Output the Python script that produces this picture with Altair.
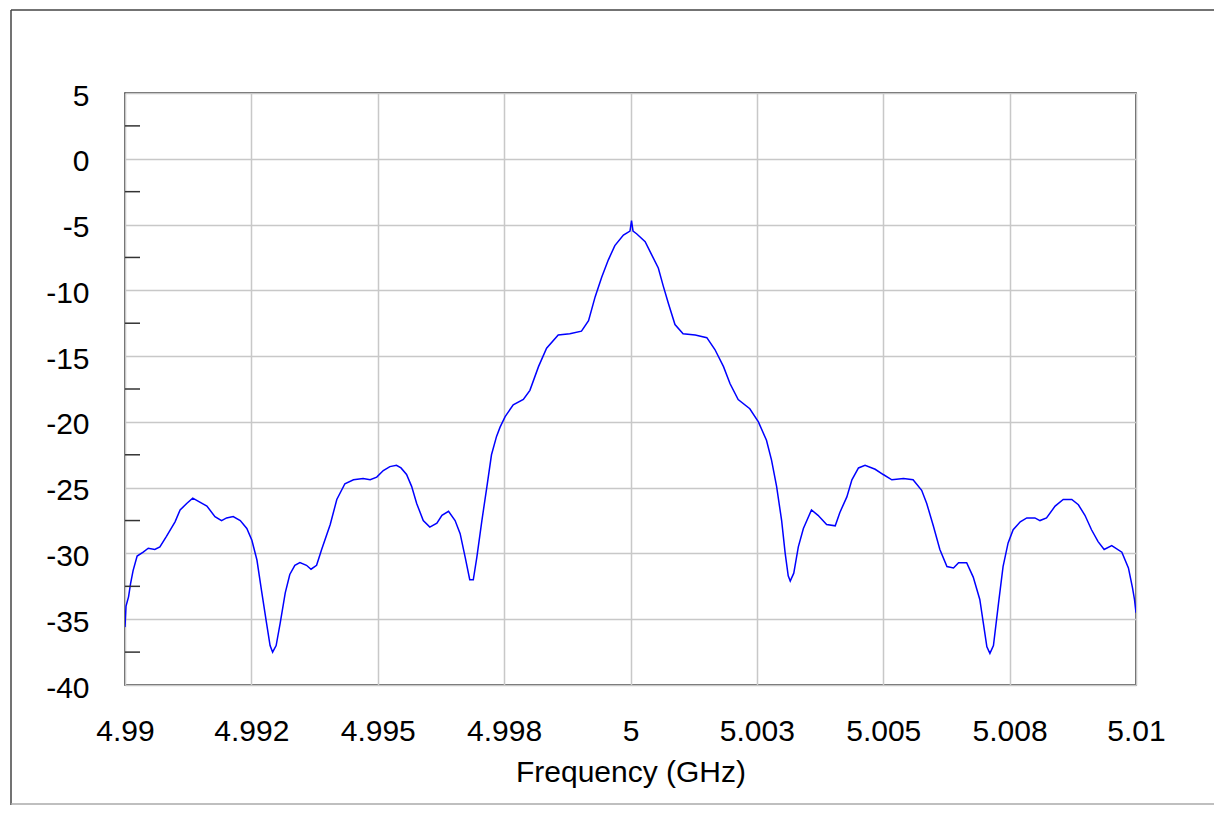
import altair as alt
import pandas as pd

# Frequency (GHz) and level (dB)
freq_ghz = [
    4.99000, 4.99002, 4.99007, 4.99011, 4.99016, 4.99024, 4.99036, 4.99046, 4.99059, 4.99069,
    4.99082, 4.99099, 4.99109, 4.99122, 4.99134, 4.99148, 4.99162, 4.99178, 4.99191, 4.99201,
    4.99214, 4.99228, 4.99241, 4.99251, 4.99261, 4.99270, 4.99280, 4.99287, 4.99292, 4.99299,
    4.99307, 4.99317, 4.99326, 4.99336, 4.99346, 4.99359, 4.99368, 4.99379, 4.99389, 4.99406,
    4.99419, 4.99435, 4.99452, 4.99471, 4.99485, 4.99498, 4.99511, 4.99524, 4.99537, 4.99546,
    4.99557, 4.99567, 4.99577, 4.99590, 4.99603, 4.99617, 4.99627, 4.99640, 4.99653, 4.99663,
    4.99673, 4.99682, 4.99689, 4.99696, 4.99706, 4.99716, 4.99725, 4.99735, 4.99742, 4.99752,
    4.99768, 4.99788, 4.99801, 4.99818, 4.99834, 4.99857, 4.99880, 4.99903, 4.99917, 4.99930,
    4.99943, 4.99956, 4.99969, 4.99986, 4.99999, 5.00002, 5.00005, 5.00012, 5.00029, 5.00042,
    5.00055, 5.00065, 5.00075, 5.00088, 5.00104, 5.00128, 5.00151, 5.00167, 5.00184, 5.00197,
    5.00213, 5.00236, 5.00253, 5.00269, 5.00279, 5.00289, 5.00299, 5.00306, 5.00312, 5.00316,
    5.00323, 5.00332, 5.00342, 5.00358, 5.00371, 5.00388, 5.00405, 5.00414, 5.00428, 5.00438,
    5.00451, 5.00464, 5.00484, 5.00500, 5.00517, 5.00540, 5.00559, 5.00576, 5.00586, 5.00599,
    5.00612, 5.00626, 5.00639, 5.00649, 5.00665, 5.00678, 5.00691, 5.00698, 5.00705, 5.00711,
    5.00718, 5.00728, 5.00737, 5.00747, 5.00757, 5.00771, 5.00784, 5.00800, 5.00810, 5.00823,
    5.00840, 5.00856, 5.00873, 5.00886, 5.00899, 5.00912, 5.00925, 5.00937, 5.00952, 5.00972,
    5.00985, 5.00993, 5.00997, 5.01000,
]
level_db = [
    -35.6, -34.0, -33.3, -32.3, -31.3, -30.2, -29.9, -29.6, -29.7, -29.5,
    -28.7, -27.6, -26.7, -26.2, -25.8, -26.1, -26.4, -27.2, -27.5, -27.3,
    -27.2, -27.5, -28.1, -29.0, -30.5, -32.8, -35.3, -37.0, -37.5, -37.0,
    -35.3, -33.0, -31.6, -30.9, -30.7, -30.9, -31.2, -30.9, -29.7, -27.8,
    -25.9, -24.7, -24.4, -24.3, -24.4, -24.2, -23.7, -23.4, -23.3, -23.5,
    -24.0, -24.9, -26.2, -27.5, -28.0, -27.7, -27.1, -26.8, -27.5, -28.5,
    -30.3, -32.0, -32.0, -30.3, -27.5, -24.9, -22.5, -21.1, -20.4, -19.6,
    -18.7, -18.3, -17.6, -15.8, -14.4, -13.4, -13.3, -13.1, -12.3, -10.5,
    -9.0, -7.7, -6.6, -5.8, -5.5, -4.7, -5.5, -5.7, -6.3, -7.3,
    -8.3, -9.7, -11.0, -12.6, -13.3, -13.4, -13.6, -14.5, -15.8, -17.1,
    -18.3, -19.0, -20.0, -21.4, -22.9, -24.9, -27.5, -30.0, -31.7, -32.1,
    -31.5, -29.5, -28.1, -26.7, -27.1, -27.8, -27.9, -26.9, -25.7, -24.4,
    -23.5, -23.3, -23.6, -24.0, -24.4, -24.3, -24.4, -25.2, -26.2, -27.9,
    -29.7, -31.0, -31.1, -30.7, -30.7, -31.8, -33.5, -35.3, -37.1, -37.6,
    -37.0, -33.8, -31.0, -29.2, -28.2, -27.6, -27.3, -27.3, -27.5, -27.3,
    -26.4, -25.9, -25.9, -26.3, -27.1, -28.2, -29.1, -29.7, -29.4, -29.9,
    -31.1, -32.6, -33.5, -34.5,
]

x_tick_values = [4.99, 4.9925, 4.995, 4.9975, 5.0, 5.0025, 5.005, 5.0075, 5.01]
x_tick_labels = ["4.99", "4.992", "4.995", "4.998", "5", "5.003", "5.005", "5.008", "5.01"]
y_tick_values = [-40, -35, -30, -25, -20, -15, -10, -5, 0, 5]
y_minor_values = [-37.5, -32.5, -27.5, -22.5, -17.5, -12.5, -7.5, -2.5, 2.5]

FONT = "Liberation Sans"
FS = 30

df = pd.DataFrame({"freq": freq_ghz, "level": level_db})
minor_df = pd.DataFrame({"v": y_minor_values})

label_js = "[" + ",".join("'" + s + "'" for s in x_tick_labels) + "]"
x_label_expr = label_js + "[round((datum.value - 4.99) / 0.0025)]"

x_scale = alt.Scale(domain=[4.99, 5.01], nice=False, zero=False)
y_scale = alt.Scale(domain=[-40, 5], nice=False, zero=False)

line = alt.Chart(df).mark_line(color="#0000FF", strokeWidth=1.5, clip=True).encode(
    x=alt.X(
        "freq:Q",
        scale=x_scale,
        axis=alt.Axis(
            values=x_tick_values,
            labelExpr=x_label_expr,
            title="Frequency (GHz)",
            ticks=False,
            domain=False,
            grid=True,
            gridColor="#c8c8c8",
            gridWidth=1.5,
            labelFont=FONT,
            labelFontSize=FS,
            labelColor="#000000",
            labelPadding=31,
            labelFlush=False,
            titleFont=FONT,
            titleFontSize=FS,
            titleFontWeight="normal",
            titleColor="#000000",
            titlePadding=11,
        ),
    ),
    y=alt.Y(
        "level:Q",
        scale=y_scale,
        axis=alt.Axis(
            values=y_tick_values,
            labelExpr="'' + datum.value",
            title=None,
            ticks=False,
            domain=False,
            grid=True,
            gridColor="#c8c8c8",
            gridWidth=1.5,
            labelFont=FONT,
            labelFontSize=FS,
            labelColor="#000000",
            labelPadding=36,
            labelFlush=False,
            labelOffset=3,
        ),
    ),
)

minor_ticks = alt.Chart(minor_df).mark_rule(color="#333333", strokeWidth=1.5).encode(
    y=alt.Y("v:Q", scale=y_scale),
    x=alt.value(0),
    x2=alt.value(15),
)

frame_df = pd.DataFrame({"k": [0]})
frame_top = alt.Chart(frame_df).mark_rule(color="#444444", strokeWidth=1.5).encode(
    x=alt.value(-114), x2=alt.value(1090), y=alt.value(-83)
)
frame_left = alt.Chart(frame_df).mark_rule(color="#444444", strokeWidth=1.5).encode(
    x=alt.value(-114), y=alt.value(-83), y2=alt.value(712)
)
frame_bottom = alt.Chart(frame_df).mark_rule(color="#aaaaaa", strokeWidth=1.5).encode(
    x=alt.value(-114), x2=alt.value(1090), y=alt.value(711)
)

chart = (
    alt.layer(frame_top, frame_left, frame_bottom, line, minor_ticks)
    .properties(
        width=1011,
        height=592,
        autosize=alt.AutoSizeParams(type="none"),
        padding={"left": 117, "top": 85, "right": 78, "bottom": 120},
        background="#ffffff",
    )
    .configure_view(stroke="#333333", strokeWidth=1.6)
)

chart.save("out.html", embed_options={"renderer": "svg", "actions": False})
